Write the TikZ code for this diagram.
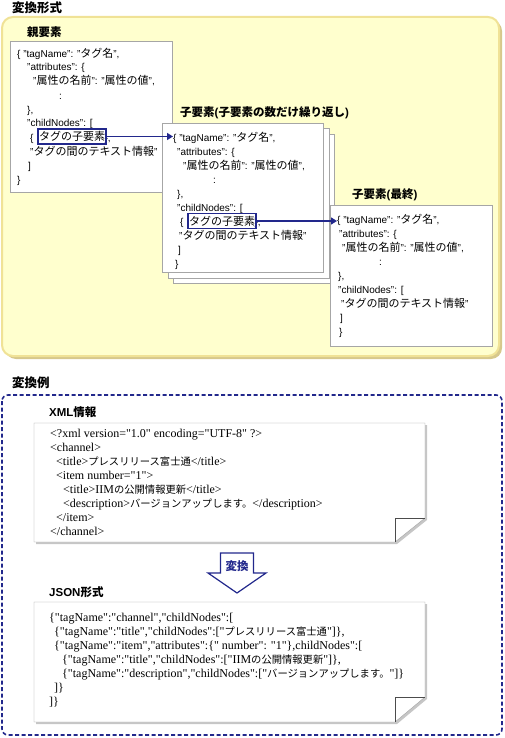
\documentclass[tikz,border=0pt]{standalone}
\usepackage{fontspec}
\setmainfont{Liberation Sans}
\newfontfamily\jpfont{Noto Sans CJK JP}
\newfontfamily\tmsfont{Liberation Serif}
\usepackage{tikz}
\usetikzlibrary{arrows.meta,positioning}
\definecolor{panelfill}{RGB}{255,255,206}
\definecolor{panelline}{RGB}{240,226,150}
\definecolor{panelshade}{RGB}{214,200,140}
\definecolor{linkblue}{RGB}{34,40,140}
\newcommand\ja[1]{{\jpfont\fontsize{11}{14}\selectfont#1}}
\newcommand\jx[1]{{\jpfont\fontsize{10.3}{14}\selectfont#1}}
\newcommand\jb[1]{{\jpfont#1}}

\begin{document}
\begin{tikzpicture}[
    x=1pt, y=-1pt,
    every node/.style={inner sep=0pt},
    heading/.style={anchor=west, font=\bfseries\fontsize{12.5}{14}\selectfont},
    caption/.style={font=\bfseries\fontsize{11.5}{14}\selectfont},
    jsonbox/.style={draw=gray!70, fill=white, anchor=north west},
    jsontext/.style={anchor=north west, align=left, font=\fontsize{10}{14}\selectfont},
    codetext/.style={anchor=north west, align=left, font=\tmsfont\fontsize{12}{14}\selectfont},
    tagmark/.style={draw=linkblue, line width=1.4pt, inner xsep=1pt, minimum height=15pt},
    link/.style={-{Triangle[length=6pt,width=7pt]}, draw=linkblue, line width=1.4pt},
    convarrow/.style={draw=linkblue, line width=1.2pt, fill=white}
]
\useasboundingbox (0,0) rectangle (505,738);

% conversion format
\node[heading] (fmt) at (12,8) {\jb{変換形式}};
\fill[panelshade, rounded corners=11pt] (5,20) rectangle (502,359);
\draw[panelline, fill=panelfill, line width=2pt, rounded corners=11pt] (2,17) rectangle (499,356);

\node[jsonbox, minimum width=162pt, minimum height=151pt] (pbox) at (10,41) {};
\node[caption, above right=3pt and 17pt of pbox.north west] (plabel) {\jb{親要素}};
\node[jsontext] (ptext) at (17,47) {\strut\{ "tagName": "\ja{タグ名}",\\
\hspace*{10pt}"attributes": \{\\
\hspace*{16pt}"\ja{属性の名前}": "\ja{属性の値}",\\
\hspace*{42pt}:\\
\hspace*{10pt}\},\\
\hspace*{10pt}"childNodes": [\\
\hspace*{13pt}\{\hspace{3pt}\phantom{\ja{タグの子要素}}\hspace{2pt}\},\\
\hspace*{13pt}"\ja{タグの間のテキスト情報}"\\
\hspace*{11pt}]\\
\}};
\node[tagmark] (pmark) at (72,136.5) {\ja{タグの子要素}};

\node[jsonbox, minimum width=161pt, minimum height=149pt] (cbox3) at (173,134) {};
\node[jsonbox, minimum width=161pt, minimum height=149pt] (cbox2) at (167.5,128.5) {};
\node[jsonbox, minimum width=161pt, minimum height=149pt] (cbox) at (162,123) {};
\node[caption, above right=4pt and 18pt of cbox.north west] (clabel) {\jb{子要素}(\jb{子要素の数だけ繰り返し})};
\node[jsontext] (ctext) at (173,131) {\strut\{ ”tagName”: ”\ja{タグ名}”,\\
\hspace*{4pt}”attributes”: \{\\
\hspace*{10pt}”\ja{属性の名前}”: ”\ja{属性の値}”,\\
\hspace*{40pt}:\\
\hspace*{4pt}\},\\
\hspace*{4pt}”childNodes”: [\\
\hspace*{7pt}\{\hspace{3pt}\phantom{\ja{タグの子要素}}\hspace{2pt}\},\\
\hspace*{6pt}”\ja{タグの間のテキスト情報}”\\
\hspace*{5pt}]\\
\hspace*{2pt}\}};
\node[tagmark] (cmark) at (222,221) {\ja{タグの子要素}};

\node[jsonbox, minimum width=162pt, minimum height=141pt] (fbox) at (330,205) {};
\node[caption, above right=4pt and 22pt of fbox.north west] (flabel) {\jb{子要素}(\jb{最終})};
\node[jsontext] (ftext) at (337,213) {\strut\{ ”tagName”: ”\ja{タグ名}”,\\
\hspace*{2pt}”attributes”: \{\\
\hspace*{5pt}”\ja{属性の名前}”: ”\ja{属性の値}”,\\
\hspace*{42pt}:\\
\hspace*{1pt}\},\\
\hspace*{1pt}”childNodes”: [\\
\hspace*{4pt}”\ja{タグの間のテキスト情報}”\\
\hspace*{3pt}]\\
\hspace*{2pt}\}};

\draw[link] (pmark) -- (pmark -| ctext.west);
\draw[link] (cmark) -- (cmark -| ftext.west);

% conversion example
\node[heading] (ex) at (12,383) {\jb{変換例}};
\draw[linkblue, line width=1.6pt, dash pattern=on 4pt off 2.5pt, rounded corners=6pt] (2,395) rectangle (502,735);

\node[caption, anchor=west] (xlabel) at (49,412) {XML\jb{情報}};
\fill[gray!45] (36,425) -- (427,425) -- (427,520) -- (397,544) -- (36,544) -- cycle;
\draw[gray!75, fill=white] (34,423) -- (425,423) -- (425,518) -- (395,542) -- (34,542) -- cycle;
\draw[gray!60!black] (395,542) -- (395,518) -- (425,518);
\node[codetext] (xtext) at (50,427) {\strut<?xml version="1.0" encoding="UTF-8" ?>\\
<channel>\\
\hspace*{6pt}<title>\jx{プレスリリース富士通}</title>\\
\hspace*{6pt}<item number="1">\\
\hspace*{13pt}<title>IIM\jx{の公開情報更新}</title>\\
\hspace*{13pt}<description>\jx{バージョンアップします。}</description>\\
\hspace*{6pt}</item>\\
</channel>};

\draw[convarrow] (220.5,553) -- (253.5,553) -- (253.5,573) -- (266,573) -- (237,593) -- (208,573) -- (220.5,573) -- cycle;
\node[caption, text=linkblue] (conv) at (237,566) {\jb{変換}};

\node[caption, anchor=west] (jlabel) at (49,592) {JSON\jb{形式}};
\fill[gray!45] (36,604) -- (427,604) -- (427,699) -- (397,724) -- (36,724) -- cycle;
\draw[gray!75, fill=white] (34,602) -- (425,602) -- (425,697) -- (395,722) -- (34,722) -- cycle;
\draw[gray!60!black] (395,722) -- (395,697) -- (425,697);
\node[codetext] (jtext) at (49,611) {\strut\{"tagName":"channel","childNodes":[\\
\hspace*{5pt}\{"tagName":"title","childNodes":["\jx{プレスリリース富士通}"]\},\\
\hspace*{5pt}\{"tagName":"item","attributes":\{" number": "1"\},childNodes":[\\
\hspace*{13pt}\{"tagName":"title","childNodes":["IIM\jx{の公開情報更新}"]\},\\
\hspace*{13pt}\{"tagName":"description","childNodes":["\jx{バージョンアップします。}"]\}\\
\hspace*{5pt}]\}\\
]\}};
\end{tikzpicture}
\end{document}
